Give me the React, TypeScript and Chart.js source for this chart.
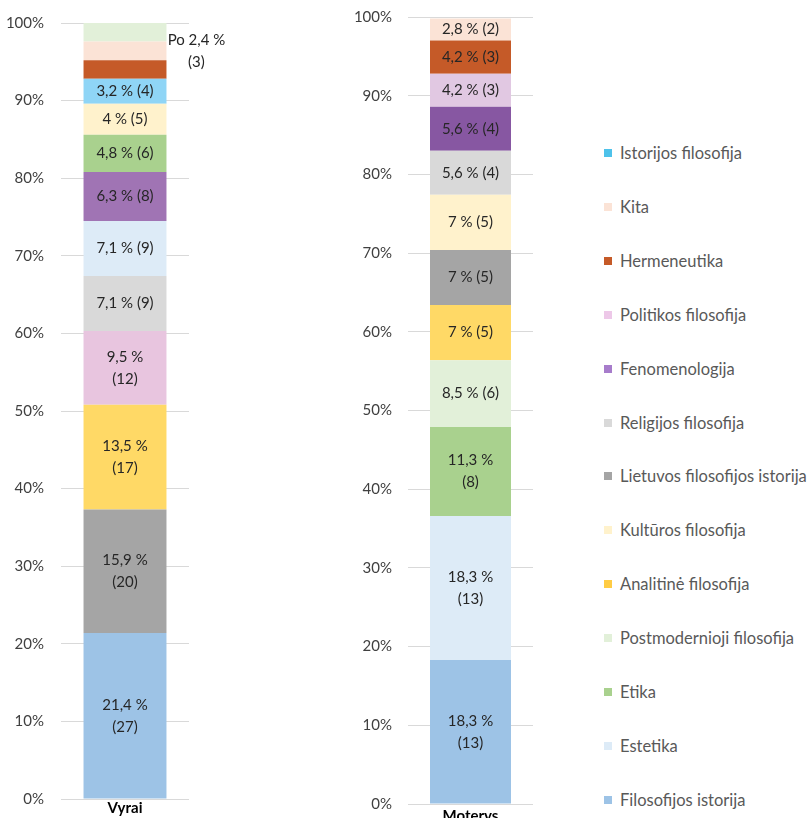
import React, { useEffect, useRef } from "react";
import { Chart, registerables } from "chart.js";
Chart.register(...registerables);

// ---------- DATA ----------
const VYRAI_LABEL = "Vyrai";
const VYRAI_CATEGORIES = [
  "Filosofijos istorija",
  "Lietuvos filosofijos istorija",
  "Analitinė filosofija",
  "Politikos filosofija",
  "Religijos filosofija",
  "Estetika",
  "Fenomenologija",
  "Etika",
  "Kultūros filosofija",
  "Istorijos filosofija",
  "Hermeneutika",
  "Kita",
  "Postmodernioji filosofija",
];
const VYRAI_PERCENT = [21.4, 15.9, 13.5, 9.5, 7.1, 7.1, 6.3, 4.8, 4, 3.2, 2.4, 2.4, 2.4];
const VYRAI_COUNTS = [27, 20, 17, 12, 9, 9, 8, 6, 5, 4, 3, 3, 3];
// the three top segments share one note instead of their own labels
const VYRAI_NOTE_INDICES = [10, 11, 12];
const VYRAI_NOTE = ["Po 2,4 %", "(3)"];

const MOTERYS_LABEL = "Moterys";
const MOTERYS_CATEGORIES = [
  "Filosofijos istorija",
  "Estetika",
  "Etika",
  "Postmodernioji filosofija",
  "Analitinė filosofija",
  "Lietuvos filosofijos istorija",
  "Kultūros filosofija",
  "Religijos filosofija",
  "Fenomenologija",
  "Politikos filosofija",
  "Hermeneutika",
  "Kita",
];
const MOTERYS_PERCENT = [18.3, 18.3, 11.3, 8.5, 7, 7, 7, 5.6, 5.6, 4.2, 4.2, 2.8];
const MOTERYS_COUNTS = [13, 13, 8, 6, 5, 5, 5, 4, 4, 3, 3, 2];

const LEGEND_ORDER = [
  "Istorijos filosofija",
  "Kita",
  "Hermeneutika",
  "Politikos filosofija",
  "Fenomenologija",
  "Religijos filosofija",
  "Lietuvos filosofijos istorija",
  "Kultūros filosofija",
  "Analitinė filosofija",
  "Postmodernioji filosofija",
  "Etika",
  "Estetika",
  "Filosofijos istorija",
];

const Y_TICKS_MAX = 100;
const Y_TICKS_STEP = 10;

// ---------- STYLE ----------
const FONT = "Lato, 'Noto Sans', sans-serif";
const BASE_COLORS: Record<string, string> = {
  "Filosofijos istorija": "#9DC3E6",
  Estetika: "#DDEBF7",
  Etika: "#A9D18E",
  "Postmodernioji filosofija": "#E2F0D9",
  "Analitinė filosofija": "#FFD966",
  "Kultūros filosofija": "#FFF2CC",
  "Lietuvos filosofijos istorija": "#A5A5A5",
  "Religijos filosofija": "#D9D9D9",
  Fenomenologija: "#A074B4",
  "Politikos filosofija": "#E8C5DF",
  Hermeneutika: "#C55A28",
  Kita: "#FBE3D6",
  "Istorijos filosofija": "#8FD5F6",
};
const MOTERYS_COLORS: Record<string, string> = {
  ...BASE_COLORS,
  Fenomenologija: "#8757A2",
  "Politikos filosofija": "#E1C8E2",
};
const LEGEND_COLORS: Record<string, string> = {
  ...BASE_COLORS,
  "Istorijos filosofija": "#4EC2EA",
  Fenomenologija: "#A77CCB",
  "Politikos filosofija": "#EDC8E8",
  "Analitinė filosofija": "#FFCC44",
};

const fmt = (v: number) => String(v).replace(".", ",");

function makeLabelPlugin(percent: number[], counts: number[], noteIdx: number[] | null, note: string[] | null) {
  return {
    id: "segLabels",
    afterDatasetsDraw(chart: any) {
      const ctx = chart.ctx;
      ctx.save();
      ctx.font = `15px ${FONT}`;
      ctx.fillStyle = "#262626";
      ctx.textAlign = "center";
      ctx.textBaseline = "middle";
      chart.data.datasets.forEach((_ds: any, i: number) => {
        const el = chart.getDatasetMeta(i).data[0];
        if (!el) return;
        const { x, y, base, width } = el.getProps(["x", "y", "base", "width"], true);
        const cy = (y + base) / 2;
        if (noteIdx && noteIdx.includes(i)) {
          if (note && i === noteIdx[Math.floor(noteIdx.length / 2)]) {
            const nx = x + width / 2 + 30;
            ctx.fillText(note[0], nx, cy - 11);
            ctx.fillText(note[1], nx, cy + 11);
          }
          return;
        }
        const p = percent[i];
        const c = counts[i];
        if (p > 9) {
          ctx.fillText(`${fmt(p)} %`, x, cy - 11);
          ctx.fillText(`(${c})`, x, cy + 11);
        } else {
          ctx.fillText(`${fmt(p)} % (${c})`, x, cy);
        }
      });
      ctx.restore();
    },
  };
}

type BarCfg = {
  label: string;
  categories: string[];
  percent: number[];
  counts: number[];
  colors: Record<string, string>;
  noteIdx: number[] | null;
  note: string[] | null;
  yWidth: number;
  padTop: number;
  padRight: number;
  xHeight: number;
  yTickGap: number;
  xTickPad: number;
  barPct: number;
};

function StackChart({ cfg, width, height, left }: { cfg: BarCfg; width: number; height: number; left: number }) {
  const ref = useRef<HTMLCanvasElement | null>(null);
  useEffect(() => {
    if (!ref.current) return;
    const chart = new Chart(ref.current, {
      type: "bar",
      data: {
        labels: [cfg.label],
        datasets: cfg.categories.map((c, i) => ({
          label: c,
          data: [cfg.percent[i]],
          backgroundColor: cfg.colors[c],
          borderWidth: 0,
          barPercentage: cfg.barPct,
          categoryPercentage: 1,
        })),
      },
      options: {
        responsive: false,
        animation: false,
        layout: { padding: { top: cfg.padTop, right: cfg.padRight, left: 0, bottom: 0 } },
        plugins: { legend: { display: false }, tooltip: { enabled: false } },
        scales: {
          x: {
            stacked: true,
            grid: { display: false, drawTicks: false },
            border: { display: false },
            ticks: { padding: cfg.xTickPad, color: "#000", font: { family: FONT, size: 15, weight: "bold" } },
            afterFit: (s: any) => {
              s.height = cfg.xHeight;
            },
          },
          y: {
            stacked: true,
            min: 0,
            max: Y_TICKS_MAX,
            ticks: {
              stepSize: Y_TICKS_STEP,
              padding: 0,
              color: "#404040",
              font: { family: FONT, size: 15 },
              callback: (v: any) => `${v}%`,
            },
            grid: {
              color: "#D9D9D9",
              lineWidth: 1,
              drawTicks: true,
              tickLength: cfg.yTickGap,
              tickColor: "rgba(0,0,0,0)",
            },
            border: { display: false },
            afterFit: (s: any) => {
              s.width = cfg.yWidth;
            },
          },
        },
      },
      plugins: [makeLabelPlugin(cfg.percent, cfg.counts, cfg.noteIdx, cfg.note)],
    } as any);
    return () => chart.destroy();
  }, []);
  return (
    <canvas
      ref={ref}
      width={width}
      height={height}
      style={{ position: "absolute", left, top: 0, width, height }}
    />
  );
}

export default function App() {
  const vyrai: BarCfg = {
    label: VYRAI_LABEL,
    categories: VYRAI_CATEGORIES,
    percent: VYRAI_PERCENT,
    counts: VYRAI_COUNTS,
    colors: BASE_COLORS,
    noteIdx: VYRAI_NOTE_INDICES,
    note: VYRAI_NOTE,
    yWidth: 61,
    padTop: 23,
    padRight: 71,
    xHeight: 19,
    yTickGap: 17,
    xTickPad: 0,
    barPct: 0.648,
  };
  const moterys: BarCfg = {
    label: MOTERYS_LABEL,
    categories: MOTERYS_CATEGORIES,
    percent: MOTERYS_PERCENT,
    counts: MOTERYS_COUNTS,
    colors: MOTERYS_COLORS,
    noteIdx: null,
    note: null,
    yWidth: 68,
    padTop: 17,
    padRight: 27,
    xHeight: 14,
    yTickGap: 16,
    xTickPad: 3,
    barPct: 0.648,
  };
  return (
    <div
      style={{
        position: "fixed",
        left: 0,
        top: 0,
        width: 810,
        height: 818,
        background: "#fff",
        overflow: "hidden",
      }}
    >
      <StackChart cfg={vyrai} width={260} height={818} left={0} />
      <StackChart cfg={moterys} width={220} height={818} left={340} />
      {LEGEND_ORDER.map((name, i) => (
        <div
          key={name}
          style={{
            position: "absolute",
            left: 604,
            top: 153 + i * 53.9 - 10,
            height: 20,
            display: "flex",
            alignItems: "center",
            whiteSpace: "nowrap",
            fontFamily: FONT,
            fontSize: 16.5,
            color: "#595959",
          }}
        >
          <span
            style={{
              display: "inline-block",
              width: 8,
              height: 8,
              background: LEGEND_COLORS[name],
              marginRight: 8,
            }}
          />
          <span>{name}</span>
        </div>
      ))}
    </div>
  );
}
